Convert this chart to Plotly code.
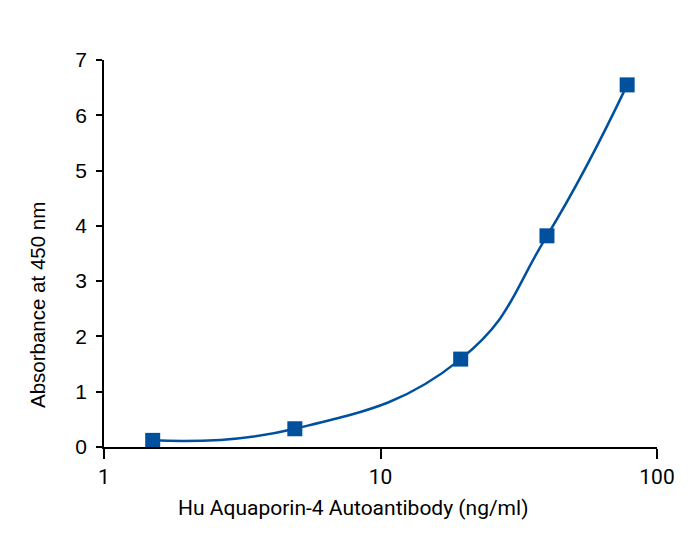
import plotly.graph_objects as go

concentration = [1.5, 4.9, 19.5, 40, 78]
absorbance = [0.12, 0.33, 1.59, 3.82, 6.55]
y_ticks = [0, 1, 2, 3, 4, 5, 6, 7]
x_ticks = [1, 10, 100]
x_title = "Hu Aquaporin-4 Autoantibody (ng/ml)"
y_title = "Absorbance at 450 nm"

color = "#00509E"

fig = go.Figure()
fig.add_trace(go.Scatter(
    x=concentration, y=absorbance, mode="lines+markers",
    line=dict(color=color, width=2.5, shape="spline", smoothing=1.3),
    marker=dict(symbol="square", size=15, color=color),
    showlegend=False,
))

fig.update_layout(
    width=700, height=552,
    margin=dict(l=96, r=51, t=52, b=113),
    plot_bgcolor="white", paper_bgcolor="white",
    font=dict(family="Roboto, Arial", color="black"),
    annotations=[
        dict(text=x_title, xref="paper", yref="paper", x=0.4494, y=-0.1576,
             xanchor="center", yanchor="middle", showarrow=False,
             font=dict(size=21, family="Roboto", color="black")),
        dict(text=y_title, xref="paper", yref="paper", x=-0.1193, y=0.367,
             xanchor="center", yanchor="middle", showarrow=False, textangle=-90,
             font=dict(size=20.5, family="Liberation Sans, Arial", color="black")),
    ],
)
fig.update_xaxes(
    type="log", range=[0, 2], tickvals=x_ticks, ticktext=[str(v) for v in x_ticks],
    showline=True, linecolor="black", linewidth=1.5, ticks="outside", ticklen=10,
    tickcolor="black", tickwidth=1.5, showgrid=False, zeroline=False,
    tickfont=dict(size=21, family="Roboto"), automargin=False,
)
fig.update_yaxes(
    range=[0, 7], tickvals=y_ticks,
    showline=True, linecolor="black", linewidth=1.5, ticks="outside", ticklen=6,
    tickcolor="black", tickwidth=1.5, showgrid=False, zeroline=False,
    tickfont=dict(size=21, family="Liberation Sans, Arial"), automargin=False,
    ticklabelstandoff=5,
)

fig.write_html("out.html")
